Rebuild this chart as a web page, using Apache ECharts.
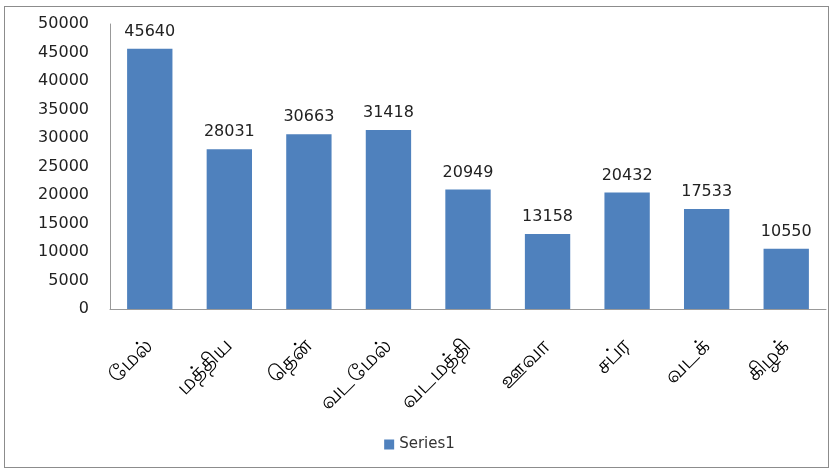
<!DOCTYPE html>
<html><head><meta charset="utf-8">
<script src="https://cdn.jsdelivr.net/npm/echarts@6/dist/echarts.min.js"></script>
<style>html,body{margin:0;padding:0;background:#fff}#c{width:839px;height:471px}
#frame{position:absolute;left:4px;top:6px;width:825px;height:462px;border:1.5px solid #8c8c8c;box-sizing:border-box;pointer-events:none}</style>
</head><body><div id="c"></div><div id="frame"></div>
<script>
const categories = ['மேல்','மத்திய','தென்','வடமேல்','வடமத்தி','ஊவா','சப்ர','வடக்','கிழக்'];
const seriesName = 'Series1';
const values = [45640,28031,30663,31418,20949,13158,20432,17533,10550];
const yMin = 0, yMax = 50000, yStep = 5000;
const chart = echarts.init(document.getElementById('c'));
chart.setOption({
  animation:false,
  textStyle:{fontFamily:'DejaVu Sans'},
  grid:{left:110,right:13,top:24,bottom:162,containLabel:false},
  legend:{bottom:14,left:'center',itemWidth:10,itemHeight:10,icon:'rect',
    textStyle:{fontSize:15,color:'#333',fontFamily:'DejaVu Sans'},data:[seriesName]},
  xAxis:{type:'category',data:categories,
    axisLine:{lineStyle:{color:'#999'}},axisTick:{show:false},
    axisLabel:{rotate:45,interval:0,fontSize:22,color:'#000',margin:34}},
  yAxis:{type:'value',min:yMin,max:yMax,interval:yStep,
    axisLine:{show:true,lineStyle:{color:'#999'}},axisTick:{show:false},splitLine:{show:false},
    axisLabel:{fontSize:16,color:'#222',margin:21,formatter:v=>String(v)}},
  series:[{name:seriesName,type:'bar',data:values,barWidth:'57%',
    itemStyle:{color:'#4F81BD'},
    label:{show:true,position:'top',distance:9,fontSize:16,color:'#222'}}]
});
</script></body></html>
